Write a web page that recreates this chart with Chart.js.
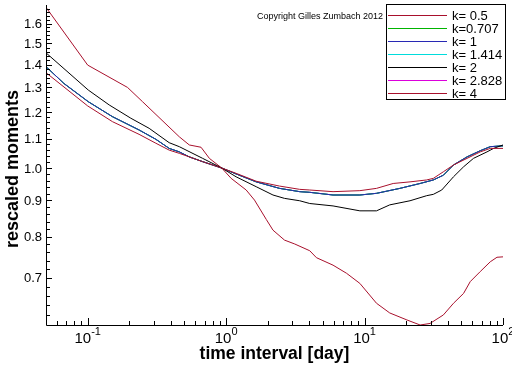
<!DOCTYPE html>
<html><head><meta charset="utf-8">
<script src="https://cdn.jsdelivr.net/npm/chart.js@4/dist/chart.umd.min.js"></script>
<style>html,body{margin:0;padding:0;background:#fff;overflow:hidden}</style>
</head><body><canvas id="c" width="512" height="366"></canvas>
<script>
// ---- data (time interval in days, rescaled moment) ----
const tauK05 = [0.05, 0.1, 0.151, 0.235, 0.311, 0.388, 0.459, 0.677, 0.93, 1.18, 1.65, 2.43, 3.40, 4.02, 5.92, 9.25, 12.2, 16.1, 21.3, 28.1, 31.4, 37.1, 43.9, 55, 68.5, 80.9, 100];
const momK05 = [1.364, 1.224, 1.163, 1.116, 1.084, 1.060, 1.049, 1.021, 1.0, 0.983, 0.958, 0.943, 0.933, 0.931, 0.926, 0.929, 0.936, 0.951, 0.956, 0.962, 0.967, 0.988, 1.010, 1.032, 1.054, 1.066, 1.066];

const tauK1 = [0.05, 0.0673, 0.101, 0.151, 0.235, 0.311, 0.388, 0.459, 0.542, 0.677, 0.93, 1.18, 1.65, 2.43, 3.40, 4.02, 5.92, 9.25, 12.2, 18.0, 25.2, 31.4, 37.1, 43.9, 55, 68.5, 80.9, 100];
const momK0707 = [1.391, 1.317, 1.241, 1.182, 1.132, 1.098, 1.066, 1.054, 1.037, 1.021, 1.0, 0.981, 0.956, 0.936, 0.926, 0.924, 0.916, 0.916, 0.921, 0.936, 0.951, 0.962, 0.977, 1.010, 1.037, 1.058, 1.072, 1.075];
const momK1    = [1.391, 1.317, 1.241, 1.182, 1.132, 1.098, 1.066, 1.054, 1.037, 1.021, 1.0, 0.981, 0.956, 0.936, 0.926, 0.924, 0.916, 0.916, 0.921, 0.936, 0.951, 0.962, 0.977, 1.010, 1.037, 1.058, 1.072, 1.075];
const momK1414 = [1.391, 1.317, 1.241, 1.182, 1.132, 1.098, 1.066, 1.054, 1.037, 1.021, 1.0, 0.981, 0.956, 0.936, 0.926, 0.924, 0.916, 0.916, 0.921, 0.936, 0.951, 0.962, 0.977, 1.010, 1.037, 1.058, 1.072, 1.075];
const momK2828 = [1.391, 1.317, 1.241, 1.182, 1.132, 1.098, 1.066, 1.054, 1.037, 1.021, 1.0, 0.981, 0.956, 0.936, 0.926, 0.924, 0.916, 0.916, 0.921, 0.936, 0.951, 0.962, 0.977, 1.010, 1.037, 1.058, 1.072, 1.075];

const tauK2 = [0.05, 0.101, 0.143, 0.205, 0.278, 0.388, 0.459, 0.677, 0.93, 1.18, 1.65, 2.18, 2.64, 3.40, 4.02, 5.92, 9.25, 12.2, 15.2, 21.3, 28.1, 31.4, 36.1, 43.9, 51.9, 61.2, 76.6, 85.5, 100];
const momK2  = [1.455, 1.289, 1.228, 1.176, 1.138, 1.086, 1.072, 1.032, 1.0, 0.972, 0.941, 0.916, 0.906, 0.899, 0.891, 0.884, 0.870, 0.870, 0.887, 0.899, 0.914, 0.918, 0.931, 0.972, 1.004, 1.032, 1.054, 1.066, 1.078];

const tauK4 = [0.05, 0.1, 0.194, 0.249, 0.459, 0.542, 0.659, 0.757, 0.93, 1.087, 1.396, 1.603, 1.95, 2.18, 2.64, 3.13, 4.02, 4.49, 5.92, 7.41, 9.25, 12.2, 15.2, 20.2, 25.2, 29.7, 37.1, 43.9, 51.9, 58.0, 68.5, 80.9, 90.5, 100];
const momK4  = [1.687, 1.398, 1.300, 1.241, 1.107, 1.078, 1.070, 1.032, 1.0, 0.967, 0.931, 0.901, 0.846, 0.817, 0.791, 0.781, 0.764, 0.747, 0.729, 0.710, 0.687, 0.644, 0.624, 0.610, 0.600, 0.603, 0.620, 0.644, 0.665, 0.691, 0.714, 0.737, 0.748, 0.749];

const seriesLabels = ['k= 0.5', 'k=0.707', 'k= 1', 'k= 1.414', 'k= 2', 'k= 2.828', 'k= 4'];
const yMajorTicks = [0.7, 0.8, 0.9, 1.0, 1.1, 1.2, 1.3, 1.4, 1.5, 1.6];
const yMinorTicks = [0.62, 0.64, 0.66, 0.68, 0.72, 0.74, 0.76, 0.78, 0.82, 0.84, 0.86, 0.88, 0.92, 0.94, 0.96, 0.98, 1.02, 1.04, 1.06, 1.08, 1.12, 1.14, 1.16, 1.18, 1.22, 1.24, 1.26, 1.28, 1.32, 1.34, 1.36, 1.38, 1.42, 1.44, 1.46, 1.48, 1.52, 1.54, 1.56, 1.58, 1.62, 1.64, 1.66, 1.68];
const xMajorTicks = [0.1, 1, 10, 100];
const xMinorTicks = [0.05, 0.06, 0.07, 0.08, 0.09, 0.2, 0.3, 0.4, 0.5, 0.6, 0.7, 0.8, 0.9, 2, 3, 4, 5, 6, 7, 8, 9, 20, 30, 40, 50, 60, 70, 80, 90];
const xTitle = 'time interval [day]';
const yTitle = 'rescaled moments';
const copyright = 'Copyright Gilles Zumbach 2012';

const FONT = "'Liberation Sans Narrow', 'Liberation Sans', Arial, sans-serif";
const RED = '#a8102c';
const colors = [RED, '#00b400', '#2828b4', '#00dcdc', '#000000', '#dc00dc', RED];
const orders = [1, 3, 2, 3, 1, 3, 1];

const pts = (t, m) => t.map((v, i) => ({x: v, y: m[i]}));
const seriesData = [
  pts(tauK05, momK05), pts(tauK1, momK0707), pts(tauK1, momK1), pts(tauK1, momK1414),
  pts(tauK2, momK2), pts(tauK1, momK2828), pts(tauK4, momK4)
];

const datasets = seriesData.map((d, i) => ({
  label: seriesLabels[i], data: d, borderColor: colors[i], backgroundColor: colors[i],
  borderWidth: 1, pointRadius: 0, fill: false, tension: 0, order: orders[i]
}));

const decor = {
  id: 'decor',
  afterDraw(chart) {
    const ctx = chart.ctx, a = chart.chartArea;
    const xs = chart.scales.x, ys = chart.scales.y;
    ctx.save();
    ctx.strokeStyle = '#000'; ctx.fillStyle = '#000'; ctx.lineWidth = 1;
    // axes
    ctx.beginPath();
    ctx.moveTo(a.left + 0.5, a.top); ctx.lineTo(a.left + 0.5, a.bottom + 0.5);
    ctx.lineTo(a.right, a.bottom + 0.5);
    ctx.stroke();
    // y ticks
    ctx.beginPath();
    yMajorTicks.forEach(v => { const y = Math.round(ys.getPixelForValue(v)) + 0.5; ctx.moveTo(a.left, y); ctx.lineTo(a.left + 6, y); });
    yMinorTicks.forEach(v => { const y = Math.round(ys.getPixelForValue(v)) + 0.5; ctx.moveTo(a.left, y); ctx.lineTo(a.left + 4, y); });
    xMajorTicks.forEach(v => { const x = Math.round(xs.getPixelForValue(v)) + 0.5; ctx.moveTo(x, a.bottom); ctx.lineTo(x, a.bottom - 7); });
    xMinorTicks.forEach(v => { const x = Math.round(xs.getPixelForValue(v)) + 0.5; ctx.moveTo(x, a.bottom); ctx.lineTo(x, a.bottom - 4); });
    ctx.stroke();
    // y labels
    ctx.font = '13px ' + FONT; ctx.textAlign = 'right'; ctx.textBaseline = 'middle';
    yMajorTicks.forEach(v => ctx.fillText(v.toFixed(1), a.left - 4, ys.getPixelForValue(v) + 1));
    // x labels 10^n
    ctx.textBaseline = 'alphabetic'; ctx.textAlign = 'left';
    xMajorTicks.forEach(v => {
      const px = xs.getPixelForValue(v);
      const sup = String(Math.round(Math.log10(v)));
      ctx.font = '15px ' + FONT; const wb = ctx.measureText('10').width;
      ctx.font = '11px ' + FONT; const ws = ctx.measureText(sup).width;
      const x0 = px - (wb + ws) / 2;
      ctx.font = '15px ' + FONT; ctx.fillText('10', x0, 343);
      ctx.font = '11px ' + FONT; ctx.fillText(sup, x0 + wb, 335);
    });
    // titles
    ctx.font = 'bold 17.5px ' + FONT; ctx.textAlign = 'center';
    ctx.fillText(xTitle, (a.left + a.right) / 2, 359);
    ctx.save(); ctx.translate(18, 169); ctx.rotate(-Math.PI / 2);
    ctx.font = 'bold 18px ' + FONT; ctx.fillText(yTitle, 0, 0); ctx.restore();
    // copyright
    ctx.font = '9px ' + FONT; ctx.textAlign = 'left';
    ctx.fillText(copyright, 257, 19);
    // legend
    ctx.strokeRect(386.5, 4.5, 119, 95);
    ctx.font = '13px ' + FONT; ctx.textBaseline = 'middle';
    chart.data.datasets.forEach((ds, i) => {
      const y = Math.round(15 + i * 12.95) + 0.5;
      ctx.strokeStyle = ds.borderColor; ctx.beginPath(); ctx.moveTo(388, y); ctx.lineTo(447, y); ctx.stroke();
      ctx.fillStyle = '#000'; ctx.fillText(ds.label, 452, y + 1);
    });
    ctx.restore();
  }
};

new Chart(document.getElementById('c').getContext('2d'), {
  type: 'line',
  data: { datasets },
  options: {
    responsive: false, animation: false, devicePixelRatio: 1,
    layout: { padding: { left: 46, right: 9, top: 5, bottom: 41 } },
    scales: {
      x: { type: 'logarithmic', min: 0.05, max: 100, display: false },
      y: { type: 'logarithmic', min: 0.6, max: 1.7, display: false }
    },
    plugins: { legend: { display: false }, tooltip: { enabled: false } }
  },
  plugins: [decor]
});
</script></body></html>
